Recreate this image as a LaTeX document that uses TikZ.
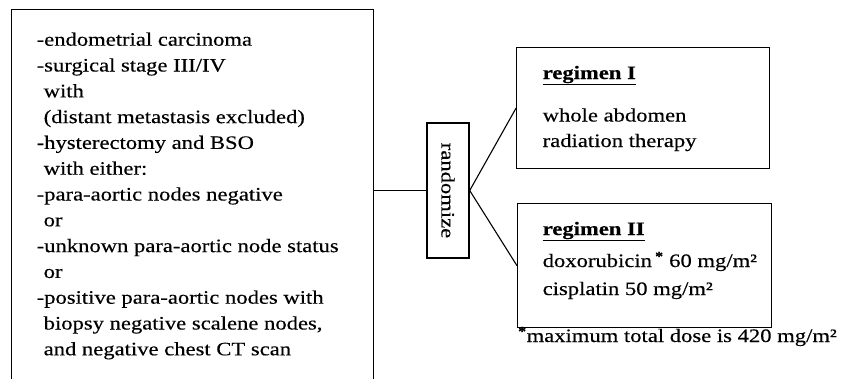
\documentclass[tikz,border=0pt]{standalone}
\usepackage{fontspec}
\setmainfont{Liberation Serif}[FakeStretch=1.19, FakeBold=0.35]
\begin{document}
\begin{tikzpicture}[x=1pt,y=-1pt,
  box/.style={draw, line width=1.4pt, inner sep=0pt, anchor=north west},
  txt/.style={anchor=base west, inner sep=0pt, font=\fontsize{19}{23}\selectfont},
  txtb/.style={anchor=base west, inner sep=0pt, font=\fontsize{19}{23}\selectfont\bfseries},
  link/.style={line width=1.1pt}]
\useasboundingbox (0,0) rectangle (842,378);
\clip (0,0) rectangle (842,378);
% criteria box (runs past the lower edge)
\node[box, minimum width=362pt, minimum height=420pt] (crit) at (11,9) {};
\node[txt] (c0)  at (36.5,45.7)  {-endometrial carcinoma};
\node[txt] (c1)  at (36.5,71.5)  {-surgical stage III/IV};
\node[txt] (c2)  at (43.5,97.3)  {with};
\node[txt] (c3)  at (43.5,123.1) {(distant metastasis excluded)};
\node[txt] (c4)  at (36.5,148.9) {-hysterectomy and BSO};
\node[txt] (c5)  at (43.5,174.7) {with either:};
\node[txt] (c6)  at (36.5,200.5) {-para-aortic nodes negative};
\node[txt] (c7)  at (43.5,226.3) {or};
\node[txt] (c8)  at (36.5,252.1) {-unknown para-aortic node status};
\node[txt] (c9)  at (43.5,277.9) {or};
\node[txt] (c10) at (36.5,303.7) {-positive para-aortic nodes with};
\node[txt] (c11) at (43.5,329.5) {biopsy negative scalene nodes,};
\node[txt] (c12) at (43.5,355.3) {and negative chest CT scan};
% randomize
\node[draw, line width=1.4pt, minimum width=42pt, minimum height=135pt, inner sep=0pt,
      font=\fontsize{19}{23}\selectfont] (rand) at (448,190.5) {\rotatebox{-90}{randomize}};
% regimen boxes
\node[box, minimum width=253pt, minimum height=121pt] (reg1) at (516,47) {};
\node[box, minimum width=254pt, minimum height=124pt] (reg2) at (517,203) {};
\node[txtb] (r1h) at (542.5,79)  {\underline{regimen I}};
\node[txt]  (r1a) at (542.5,121.5) {whole abdomen};
\node[txt]  (r1b) at (542.5,147) {radiation therapy};
\node[txtb] (r2h) at (542.5,235) {\underline{regimen II}};
\node[txt]  (r2a) at (542.5,267) {doxorubicin\,\textsuperscript{\bfseries *} 60 mg/m²};
\node[txt]  (r2b) at (542.5,295) {cisplatin 50 mg/m²};
\node[txt]  (fn)  at (518,342)   {\textsuperscript{\bfseries *}maximum total dose is 420 mg/m²};
% connectors
\draw[link] (rand.west -| crit.east) -- (rand.west);
\draw[link] (rand.east) -- (reg1.west);
\draw[link] (rand.east) -- (reg2.west);
\end{tikzpicture}
\end{document}
